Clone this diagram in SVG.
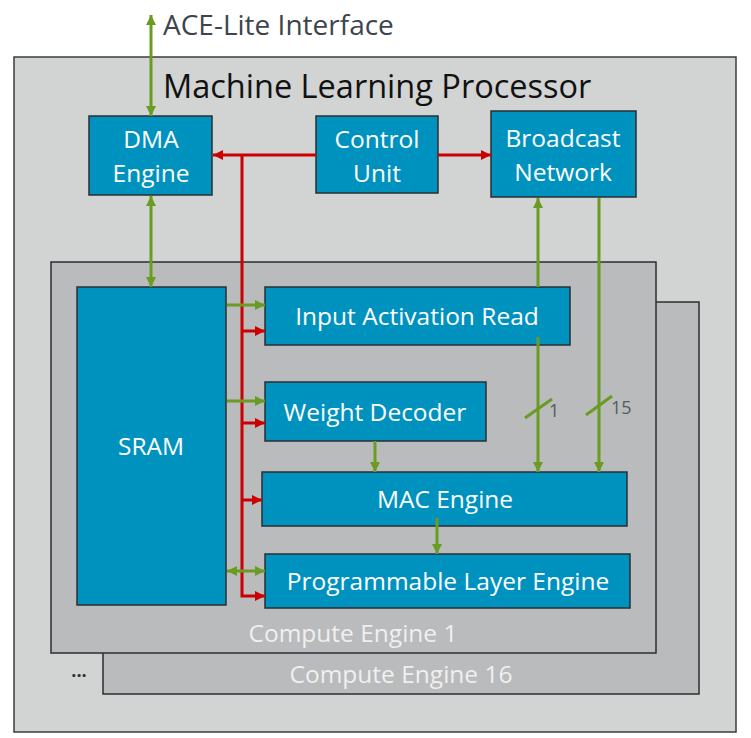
<svg xmlns="http://www.w3.org/2000/svg" width="751" height="738" viewBox="0 0 751 738">
<defs>
<marker id="ag" viewBox="0 0 10 10" refX="10" refY="5" markerWidth="10" markerHeight="10" markerUnits="userSpaceOnUse" orient="auto-start-reverse"><path d="M0,0 L10,5 L0,10 z" fill="#6a9b22"/></marker>
<marker id="ar" viewBox="0 0 10 10" refX="10" refY="5" markerWidth="10" markerHeight="10" markerUnits="userSpaceOnUse" orient="auto-start-reverse"><path d="M0,0 L10,5 L0,10 z" fill="#cc0000"/></marker>
</defs>
<style>
.blk{fill:#0092bf;stroke:#2a2f33;stroke-width:1.5}
.wt{fill:#ffffff;font-family:"Open Sans","Noto Sans",sans-serif;font-size:24.5px;text-anchor:middle}
.ce{fill:#f0f0f0}
.g{stroke:#6a9b22;stroke-width:3;fill:none}
.r{stroke:#cc0000;stroke-width:3;fill:none}
.lbl{fill:#555b60;font-family:"Open Sans","Noto Sans",sans-serif;font-size:18px}
</style>
<rect width="751" height="738" fill="#ffffff"/>
<g id="mlp">
<rect x="14" y="57" width="722" height="675" fill="#d2d3d3" stroke="#3a3d40" stroke-width="1.5"/>
<text x="163" y="98" font-family="Open Sans, Noto Sans, sans-serif" font-size="32.5" fill="#111">Machine Learning Processor</text>
</g>
<text x="163" y="35" font-family="Open Sans, Noto Sans, sans-serif" font-size="28" fill="#3d454c">ACE-Lite Interface</text>
<g id="ce16">
<rect x="103" y="302" width="596" height="392" fill="#b9bbbc" stroke="#2a2f33" stroke-width="1.5"/>
<text x="401" y="683" class="wt ce">Compute Engine 16</text>
<text x="79" y="677" font-family="Open Sans, Noto Sans, sans-serif" font-size="18" font-weight="bold" fill="#333" text-anchor="middle">...</text>
</g>
<g id="ce1">
<rect x="51" y="262" width="605" height="391" fill="#b9bbbc" stroke="#2a2f33" stroke-width="1.5"/>
<text x="353" y="642" class="wt ce">Compute Engine 1</text>
</g>
<g id="dma"><rect class="blk" x="89" y="116" width="123" height="79"/><text class="wt" x="151" y="148">DMA</text><text class="wt" x="151" y="182">Engine</text></g>
<g id="ctrl"><rect class="blk" x="316" y="116" width="122" height="77"/><text class="wt" x="377" y="148">Control</text><text class="wt" x="377" y="182">Unit</text></g>
<g id="bcast"><rect class="blk" x="491" y="111" width="145" height="86"/><text class="wt" x="563" y="147">Broadcast</text><text class="wt" x="563" y="181">Network</text></g>
<g id="sram"><rect class="blk" x="77" y="287" width="149" height="318"/><text class="wt" x="151" y="455">SRAM</text></g>
<g id="iar"><rect class="blk" x="265" y="287" width="305" height="58"/><text class="wt" x="417" y="325">Input Activation Read</text></g>
<g id="wd"><rect class="blk" x="265" y="382" width="221" height="59"/><text class="wt" x="375" y="421">Weight Decoder</text></g>
<g id="mac"><rect class="blk" x="262" y="472" width="365" height="54"/><text class="wt" x="445" y="508">MAC Engine</text></g>
<g id="ple"><rect class="blk" x="265" y="554" width="365" height="54"/><text class="wt" x="448" y="590">Programmable Layer Engine</text></g>
<g id="connectors">
<line class="g" x1="151" y1="116" x2="151" y2="15" marker-end="url(#ag)" marker-start="url(#ag)"/>
<line class="g" x1="151" y1="196" x2="151" y2="287" marker-end="url(#ag)" marker-start="url(#ag)"/>
<line class="r" x1="316" y1="155" x2="213" y2="155" marker-end="url(#ar)"/>
<line class="r" x1="438" y1="155" x2="491" y2="155" marker-end="url(#ar)"/>
<polyline class="r" points="242,155 242,596 265,596" marker-end="url(#ar)"/>
<line class="r" x1="242" y1="331" x2="265" y2="331" marker-end="url(#ar)"/>
<line class="r" x1="242" y1="423" x2="265" y2="423" marker-end="url(#ar)"/>
<line class="r" x1="242" y1="500" x2="262" y2="500" marker-end="url(#ar)"/>
<line class="g" x1="227" y1="305" x2="265" y2="305" marker-end="url(#ag)"/>
<line class="g" x1="227" y1="401" x2="265" y2="401" marker-end="url(#ag)"/>
<line class="g" x1="227" y1="571" x2="265" y2="571" marker-end="url(#ag)" marker-start="url(#ag)"/>
<line class="g" x1="538" y1="287" x2="538" y2="198" marker-end="url(#ag)"/>
<line class="g" x1="599" y1="198" x2="599" y2="472" marker-end="url(#ag)"/>
<line class="g" x1="538" y1="337" x2="538" y2="472" marker-end="url(#ag)"/>
<line class="g" x1="525" y1="418" x2="552" y2="399"/>
<line class="g" x1="586" y1="415" x2="612" y2="396"/>
<line class="g" x1="375" y1="441" x2="375" y2="472" marker-end="url(#ag)"/>
<line class="g" x1="437" y1="518" x2="437" y2="554" marker-end="url(#ag)"/>
</g>
<text class="lbl" x="549" y="417">1</text>
<text class="lbl" x="611" y="414">15</text>
</svg>
